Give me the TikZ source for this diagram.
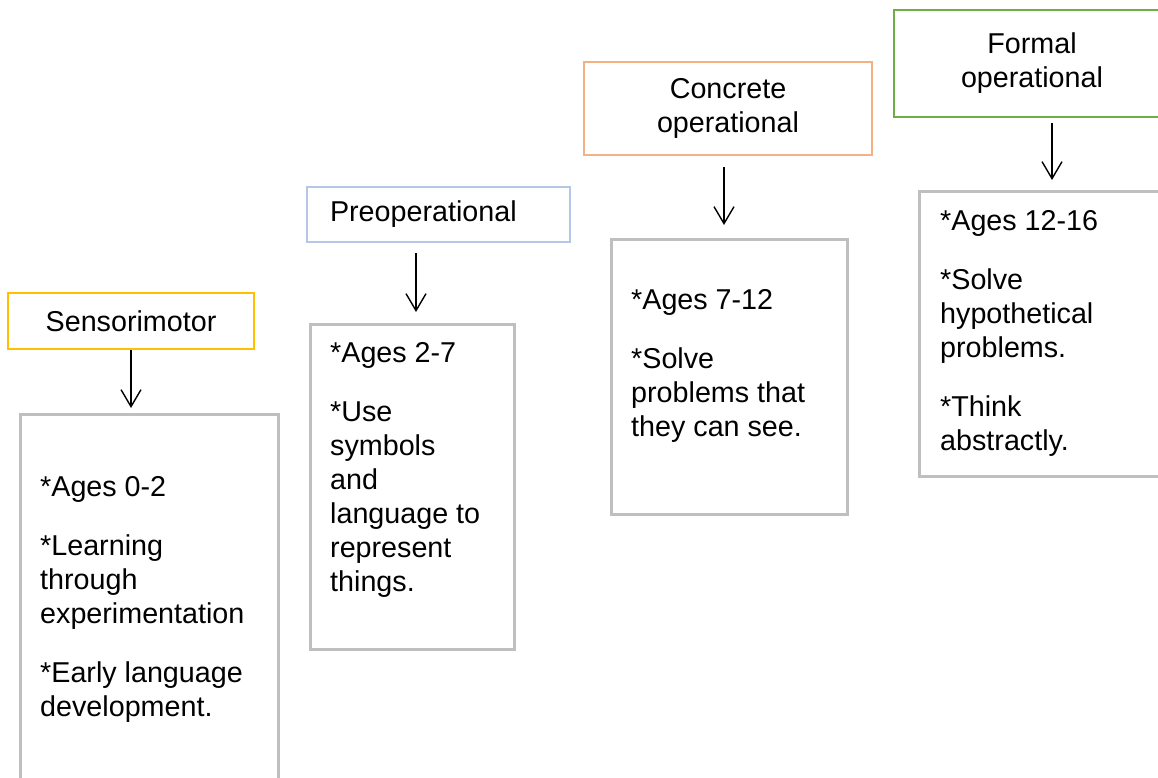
\documentclass[tikz,border=0pt]{standalone}
\usepackage{fontspec}
\setmainfont{Liberation Sans}
\usetikzlibrary{arrows.meta,positioning}
\definecolor{sensyellow}{HTML}{FFC000}
\definecolor{preblue}{HTML}{B4C7E7}
\definecolor{concorange}{HTML}{F4B183}
\definecolor{formgreen}{HTML}{70AD47}
\definecolor{boxgray}{HTML}{BFBFBF}
\begin{document}
\begin{tikzpicture}
[x=1pt, y=-1pt,
every node/.style={font=\fontsize{28.7}{34}\selectfont},
head/.style={draw, line width=2.5pt, inner sep=0pt},
body/.style={draw=boxgray, line width=3pt, anchor=north west, inner sep=0pt},
bodytxt/.style={align=left, anchor=north west, inner sep=0pt},
arr/.style={line width=1.4pt, -{Straight Barb[length=17pt, width=20pt, line width=1.4pt]}}]
\useasboundingbox (0,0) rectangle (1158,778);
\node [head, draw=sensyellow, minimum width=246pt, minimum height=56pt] (sens) at (131,321) {Sensorimotor};
\node [head, draw=preblue, minimum width=263pt, minimum height=55pt, text width=217pt, align=left] (pre) at (438.5,214.5) {Preoperational};
\node [head, draw=concorange, minimum width=288pt, minimum height=93pt, align=center] (conc) at (728,108.5) {Concrete\\operational};
\node [head, draw=formgreen, minimum width=276pt, minimum height=107pt, align=center] (form) at (1032,63.5) {Formal\\operational};
\node [body, minimum width=258pt, minimum height=420pt] (sensbody) at (19,413) {};
\node [body, minimum width=204pt, minimum height=325pt] (prebody) at (309,323) {};
\node [body, minimum width=236pt, minimum height=275pt] (concbody) at (610,238) {};
\node [body, minimum width=260pt, minimum height=285pt] (formbody) at (918,190) {};
\node [bodytxt] (senstxt) at (40,476) {*Ages 0-2\\[25pt]*Learning\\through\\experimentation\\[25pt]*Early language\\development.};
\node [bodytxt] (pretxt) at (330,342) {*Ages 2-7\\[25pt]*Use\\symbols\\and\\language to\\represent\\things.};
\node [bodytxt] (conctxt) at (631,289) {*Ages 7-12\\[25pt]*Solve\\problems that\\they can see.};
\node [bodytxt] (formtxt) at (940,210) {*Ages 12-16\\[25pt]*Solve\\hypothetical\\problems.\\[25pt]*Think\\abstractly.};
\draw [arr] (sens.south) -- ([yshift=5pt]sens.south |- sensbody.north);
\draw [arr] ([xshift=-22.5pt, yshift=-10pt]pre.south) -- ([xshift=-22.5pt, yshift=11pt]pre.south |- prebody.north);
\draw [arr] ([xshift=-4pt, yshift=-11pt]conc.south) -- ([xshift=-4pt, yshift=13pt]conc.south |- concbody.north);
\draw [arr] ([xshift=20pt, yshift=-5pt]form.south) -- ([xshift=20pt, yshift=10pt]form.south |- formbody.north);
\end{tikzpicture}
\end{document}
